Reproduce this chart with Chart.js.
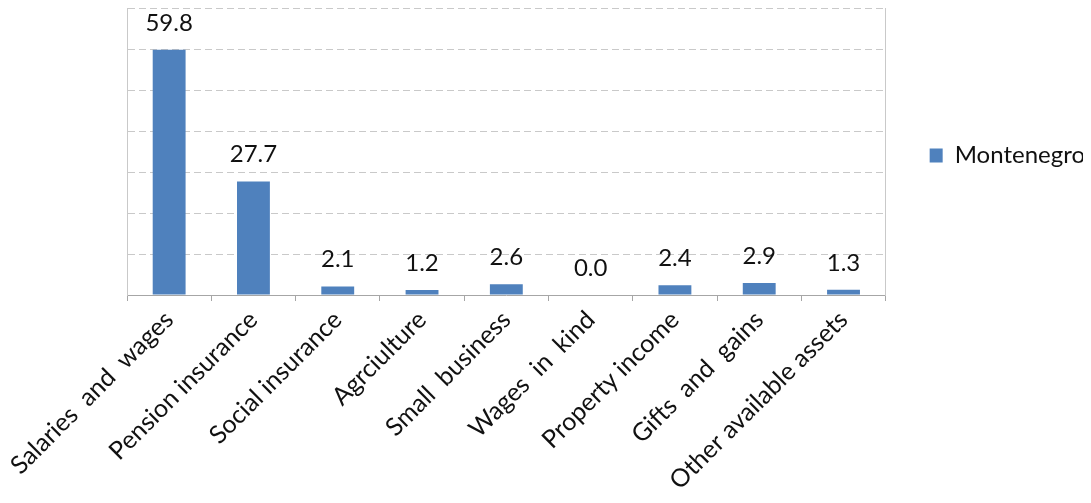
<!DOCTYPE html>
<html>
<head>
<meta charset="utf-8">
<script src="https://cdn.jsdelivr.net/npm/chart.js@4"></script>
<style>
  html, body { margin: 0; padding: 0; background: #fff; }
  #wrap { width: 1091px; height: 503px; }
</style>
</head>
<body>
<div id="wrap"><canvas id="bar-chart"></canvas></div>
<script>
// income sources, share in %
var categories = ["Salaries  and  wages", "Pension insurance", "Social insurance", "Agrciulture",
                  "Small  business", "Wages  in  kind", "Property income", "Gifts  and  gains",
                  "Other available assets"];
var seriesName = "Montenegro";
var montenegro = [59.8, 27.7, 2.1, 1.2, 2.6, 0.0, 2.4, 2.9, 1.3];
var yMin = 0, yMax = 70, yStep = 10;

var FONT = "Lato";
var gridGrey = "#c9c9c9";

// numbers above the bars
var valueLabels = {
    id: 'valueLabels',
    afterDatasetsDraw: function(chart) {
        var ctx = chart.ctx;
        var meta = chart.getDatasetMeta(0);
        ctx.save();
        ctx.font = "24px " + FONT;
        ctx.fillStyle = "#111";
        ctx.textAlign = "center";
        ctx.textBaseline = "alphabetic";
        meta.data.forEach(function(bar, i) {
            ctx.fillText(montenegro[i].toFixed(1), bar.x, bar.y - 19);
        });
        ctx.restore();
    }
};

// legend sits level with the middle of the plot, not the whole canvas
var legendSpot = {
    id: 'legendSpot',
    afterLayout: function(chart) {
        var a = chart.chartArea;
        chart.legend.top = a.top;
        chart.legend.bottom = a.bottom + 8;
    }
};

var ctx = document.getElementById("bar-chart");

var barChart = new Chart(ctx, {
    type: 'bar',
    data: {
        labels: categories,
        datasets: [
            {
                label: seriesName,
                data: montenegro,
                backgroundColor: '#4f81bd',
                borderWidth: 0,
                barPercentage: 0.39,
                categoryPercentage: 1.0
            }
        ]
    },
    options: {
        responsive: true,
        maintainAspectRatio: false,
        animation: false,
        layout: { padding: { left: 127, top: 8, right: 8, bottom: 0 } },
        plugins: {
            legend: {
                position: 'right',
                labels: {
                    font: { family: FONT, size: 24 },
                    color: '#111',
                    boxWidth: 13,
                    boxHeight: 14,
                    padding: 6
                }
            },
            tooltip: { enabled: false }
        },
        scales: {
            x: {
                offset: true,
                grid: {
                    offset: true,
                    drawOnChartArea: false,
                    drawTicks: true,
                    tickLength: 6,
                    color: '#a6a6a6'
                },
                border: { display: true, color: '#a6a6a6', width: 1 },
                ticks: {
                    autoSkip: false,
                    maxRotation: 45,
                    minRotation: 45,
                    padding: 4,
                    color: '#111',
                    font: { family: FONT, size: 25 }
                },
                afterFit: function(s) { s.height = 208; }
            },
            y: {
                min: yMin,
                max: yMax,
                ticks: { display: false, stepSize: yStep },
                grid: {
                    drawTicks: false,
                    color: function(c) { return c.tick && c.tick.value === 0 ? 'rgba(0,0,0,0)' : gridGrey; }
                },
                border: { display: true, color: gridGrey, dash: [7, 4] },
                afterFit: function(s) { s.width = 0; }
            },
            yRight: {
                position: 'right',
                min: 0,
                max: 1,
                ticks: { display: false },
                grid: { display: false, drawTicks: false },
                border: { display: true, color: gridGrey, dash: [7, 4] },
                afterFit: function(s) { s.width = 38; }
            }
        }
    },
    plugins: [valueLabels, legendSpot]
});
</script>
</body>
</html>
